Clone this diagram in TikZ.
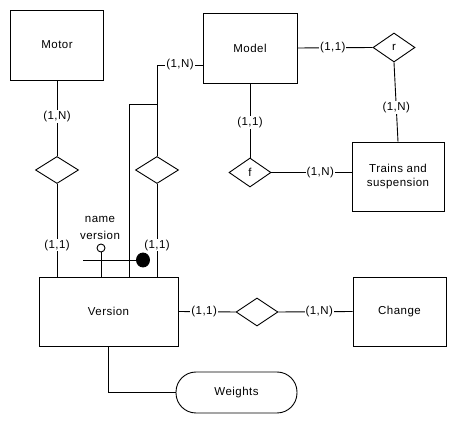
\documentclass[tikz,border=0pt]{standalone}
\usepackage{fontspec}
\setmainfont{Liberation Sans}[LetterSpace=4]
\usetikzlibrary{shapes.geometric,calc}
\begin{document}
\begin{tikzpicture}[x=1pt,y=-1pt,line width=0.9pt,
  font=\fontsize{11.5}{14}\selectfont,
  entity/.style={draw,minimum width=93pt,minimum height=70pt,inner sep=0pt},
  rel/.style={draw,diamond,minimum width=43pt,minimum height=27pt,inner sep=0pt},
  card/.style={fill=white,inner sep=1pt},
  every node/.style={align=center}]
\useasboundingbox (0,0) rectangle (456,422);
% entities
\node[entity] (Motor) at (57,45) {Motor};
\node[entity,minimum width=94pt] (Model) at (250,48) {Model};
\node[entity,minimum width=92pt,minimum height=69pt] (Trains) at (398,176.5) {Trains and\\suspension};
\node[entity,minimum width=139pt,minimum height=69pt] (Version) at (108.5,311.5) {Version};
\node[entity,minimum width=93pt,minimum height=69pt] (Change) at (399.5,311.5) {Change};
\node[draw,rounded corners=20pt,minimum width=121pt,minimum height=41pt,inner sep=0pt] (Weights) at (236.5,392.5) {Weights};
% relationships
\node[rel] (d1) at (57,170) {};
\node[rel] (d2) at (157,170) {};
\node[rel,minimum width=42pt,minimum height=29pt] (r) at (394,47.5) {r};
\node[rel,minimum width=42pt,minimum height=29pt] (f) at (250,172.5) {f};
\node[rel,minimum width=42pt,minimum height=28pt] (d3) at (257,312) {};
% coordinates
\coordinate (mw) at (203,65);
\coordinate (br) at (157,104);
\coordinate (vt) at (129,277);
% connectors
\draw (Motor.south) -- node[card,pos=0.48]{(1,N)} (d1.north);
\draw (d1.south) -- node[card,pos=0.66]{(1,1)} (d1 |- Version.north);
\draw (d2.south) -- node[card,pos=0.66]{(1,1)} (d2 |- Version.north);
\draw (d2.north) |- node[card,pos=0.75]{(1,N)} (mw);
\draw (br) -| (vt);
\draw (Model.east) -- node[card,pos=0.47]{(1,1)} (r.west);
\draw (r.south) -- node[card,pos=0.57]{(1,N)} (Trains.north);
\draw (Model.south) -- node[card,pos=0.53]{(1,1)} (f.north);
\draw (f.east) -- node[card,pos=0.61]{(1,N)} (f.east -| Trains.west);
\draw (Version.east) -- node[card,pos=0.45]{(1,1)} (d3.west);
\draw (d3.east) -- node[card,pos=0.55]{(1,N)} (Change.west);
\draw (Version.south) |- (Weights.west);
% attribute and identifier
\node[draw,circle,minimum size=8pt,inner sep=0pt] (att) at (101,248) {};
\draw (att.south) -- (att |- Version.north);
\node[inner sep=0pt,font=\fontsize{11.5}{16.5}\selectfont] (attname) at (100,228) {name\\version};
\node[draw,fill=black,ellipse,minimum width=13pt,minimum height=14pt,inner sep=0pt] (idc) at (143,260) {};
\coordinate (idl) at (83,260);
\draw (idl) -- (idc.west);
\end{tikzpicture}
\end{document}
